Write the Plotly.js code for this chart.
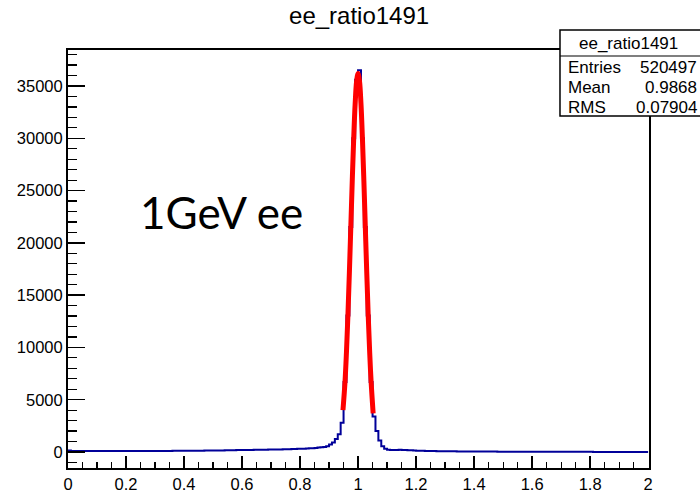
<!DOCTYPE html>
<html>
<head>
<meta charset="utf-8">
<script src="https://cdn.plot.ly/plotly-3.0.1.min.js"></script>
<style>html,body{margin:0;padding:0;background:#fff;}#chart{width:700px;height:492px;}</style>
</head>
<body>
<div id="chart"></div>
<script>
// Histogram: 200 bins from 0 to 2 (width 0.01), counts
const binLow = 0;
const binWidth = 0.01;
const counts = [
  150,100,90,85,85,85,85,85,85,85,
  85,85,85,90,90,90,90,90,90,90,
  90,95,95,95,95,95,95,100,100,100,
  100,100,105,105,105,105,110,110,110,115,
  115,120,120,125,125,130,130,135,140,140,
  145,150,150,155,160,165,170,175,180,185,
  190,195,200,200,205,210,215,220,225,230,
  235,240,245,250,255,260,270,280,290,300,
  310,320,335,350,370,390,420,460,480,560,
  720,900,1250,1700,2800,6700,13050,21510,30010,35600,
  36500,30010,21510,13050,6700,3400,2000,1100,550,300,
  220,200,195,200,210,200,190,175,160,145,
  130,120,110,100,95,90,85,80,75,70,
  68,65,62,60,58,56,54,52,50,48,
  46,44,42,40,39,38,37,36,35,34,
  33,32,31,30,29,28,27,26,25,24,
  24,23,22,22,21,20,20,19,18,18,
  17,17,16,16,15,15,14,14,14,13,
  13,12,12,12,11,11,11,10,10,10,
  10,9,9,9,9,8,8,8,8,8
];
// Fit curve (red)
const fitX = [0.948,0.955,0.96,0.965,0.97,0.975,0.98,0.985,0.99,0.995,1.0,1.005,1.01,1.015,1.02,1.025,1.03,1.035,1.04,1.045,1.052];
const fitY = [4000,6700,9550,13050,17100,21510,25940,30010,33310,35450,36200,35450,33310,30010,25940,21510,17100,13050,9550,6700,3700];

const title = "ee_ratio1491";
const statsLabels = ["Entries","Mean","RMS"];
const statsValues = ["520497","0.9868","0.07904"];
const label = "1GeV ee";

const xTickVals = [0,0.2,0.4,0.6,0.8,1,1.2,1.4,1.6,1.8,2];
const xTickText = ["0","0.2","0.4","0.6","0.8","1","1.2","1.4","1.6","1.8","2"];
const yTickVals = [0,5000,10000,15000,20000,25000,30000,35000];
const yTickText = ["0","5000","10000","15000","20000","25000","30000","35000"];

// build step outline from bins
const hx = [], hy = [];
for (let i = 0; i < counts.length; i++) { hx.push(binLow + i*binWidth); hy.push(counts[i]); }
hx.push(binLow + counts.length*binWidth); hy.push(counts[counts.length-1]);

const FONT = "Liberation Sans, Arial, sans-serif";

const traces = [
  {x: hx, y: hy, type: "scatter", mode: "lines", line: {shape: "hv", color: "#000099", width: 2}, hoverinfo: "skip"},
  {x: fitX, y: fitY, type: "scatter", mode: "lines", line: {shape: "spline", color: "#ff0000", width: 5}, hoverinfo: "skip"}
];

// stats box geometry (paper coords)
const bx0 = 0.8468, bx1 = 1.095, by0 = 0.8421, by1 = 1.0478, bHead = 0.9856;
const headY = 1.0144;
const rowY = [0.9593, 0.9091, 0.8636];

const annotations = [
  {text: label, xref: "x", yref: "y", x: 0.53, y: 22950, xanchor: "center", yanchor: "middle", showarrow: false, font: {family: "Lato, Open Sans, sans-serif", size: 44, color: "#000"}},
  {text: title, xref: "paper", yref: "paper", x: (bx0+1.0843)/2, y: headY, xanchor: "center", yanchor: "middle", showarrow: false, font: {family: FONT, size: 17, color: "#000"}}
];
for (let i = 0; i < statsLabels.length; i++) {
  annotations.push({text: statsLabels[i], xref: "paper", yref: "paper", x: 0.8589, y: rowY[i], xanchor: "left", yanchor: "middle", showarrow: false, borderpad: 0, font: {family: FONT, size: 17, color: "#000"}});
  annotations.push({text: statsValues[i], xref: "paper", yref: "paper", x: 1.0843, y: rowY[i], xanchor: "right", yanchor: "middle", showarrow: false, borderpad: 0, font: {family: FONT, size: 17, color: "#000"}});
}

const layout = {
  width: 700, height: 492,
  margin: {l: 68, r: 51, t: 50, b: 24},
  paper_bgcolor: "#fff", plot_bgcolor: "#fff",
  showlegend: false,
  title: {text: title, x: 0.513, xanchor: "center", y: 0.968, yanchor: "middle", font: {family: FONT, size: 24, color: "#000"}},
  xaxis: {
    range: [0, 2.003], showgrid: false, zeroline: false,
    showline: true, linecolor: "#000", linewidth: 2, mirror: true,
    ticks: "inside", ticklen: 12, tickwidth: 1.5, tickcolor: "#000",
    tickvals: xTickVals, ticktext: xTickText,
    tickfont: {family: FONT, size: 16.5, color: "#000"},
    minor: {dtick: 0.05, ticks: "inside", ticklen: 6, tickwidth: 1.2, tickcolor: "#000", showgrid: false}
  },
  yaxis: {
    range: [-1530, 38443], showgrid: false, zeroline: false,
    showline: true, linecolor: "#000", linewidth: 2, mirror: true,
    ticks: "inside", ticklen: 17, tickwidth: 1.5, tickcolor: "#000",
    tickvals: yTickVals, ticktext: yTickText,
    tickfont: {family: FONT, size: 16.5, color: "#000"},
    minor: {dtick: 1000, ticks: "inside", ticklen: 9, tickwidth: 1.2, tickcolor: "#000", showgrid: false}
  },
  shapes: [
    {type: "rect", xref: "paper", yref: "paper", x0: bx0, x1: bx1, y0: by0, y1: by1, line: {color: "#000", width: 1.5}, fillcolor: "#fff", layer: "above"},
    {type: "line", xref: "paper", yref: "paper", x0: bx0, x1: bx1, y0: bHead, y1: bHead, line: {color: "#000", width: 1.2}, layer: "above"}
  ],
  annotations: annotations
};

Plotly.newPlot("chart", traces, layout, {displayModeBar: false, staticPlot: true});
</script>
</body>
</html>
